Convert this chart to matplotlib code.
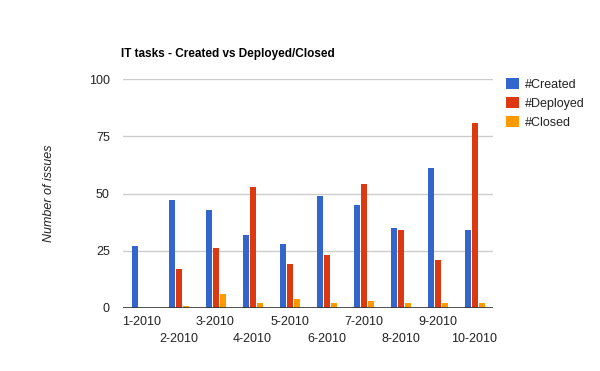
import matplotlib
matplotlib.use("Agg")
import matplotlib.pyplot as plt
import numpy as np

# --------------------------------------------------
# Datos
# --------------------------------------------------
meses = ["1-2010", "2-2010", "3-2010", "4-2010", "5-2010",
         "6-2010", "7-2010", "8-2010", "9-2010", "10-2010"]
creados = [27, 47, 43, 32, 28, 49, 45, 35, 61, 34]
desplegados = [0, 17, 26, 53, 19, 23, 54, 34, 21, 81]
cerrados = [0, 1, 6, 2, 4, 2, 3, 2, 2, 2]

series = [("#Created", creados, "#3366cc"),
          ("#Deployed", desplegados, "#dc3912"),
          ("#Closed", cerrados, "#ff9900")]

plt.rcParams["font.family"] = ["Liberation Sans", "DejaVu Sans"]
tam = 9

fig = plt.figure(figsize=(6, 3.71), dpi=100)
ax = fig.add_axes([123 / 600, 1 - 308 / 371, 370 / 600, 229 / 371])

# --------------------------------------------------
# Barras agrupadas
# --------------------------------------------------
x = np.arange(len(meses))
ancho = 6 / 37
paso = 7 / 37
for i, (nombre, valores, color) in enumerate(series):
    ax.bar(x + (i - 1) * paso, valores, width=ancho, color=color,
           label=nombre, zorder=3)

ax.set_xlim(-0.5, len(meses) - 0.5)
ax.set_ylim(0, 100)
ax.set_yticks([0, 25, 50, 75, 100])
ax.grid(axis="y", color="#cccccc", linewidth=1, zorder=0)
ax.axhline(0, color="#333333", linewidth=1.2, zorder=4)

for lado in ["top", "right", "left", "bottom"]:
    ax.spines[lado].set_visible(False)

ax.tick_params(axis="y", length=0, pad=9.5, colors="#222222", labelsize=tam)
ax.tick_params(axis="x", length=0, colors="#222222", labelsize=tam)
ax.set_xticks(x)
ax.set_xticklabels(meses)

# etiquetas del eje x en dos filas alternadas
for j, tick in enumerate(ax.xaxis.get_major_ticks()):
    tick.set_pad(6 if j % 2 == 0 else 18)

ax.set_ylabel("Number of issues", style="italic", color="#222222", fontsize=tam)
ax.yaxis.set_label_coords(-0.184, 0.5)

fig.text(121 / 600, 1 - 54 / 371, "IT tasks - Created vs Deployed/Closed",
         fontweight="bold", fontsize=8.5, va="center", ha="left", color="#000000")

ax.legend(loc="upper left", bbox_to_anchor=(506 / 600, 1 - 78 / 371),
          bbox_transform=fig.transFigure, frameon=False, borderpad=0,
          borderaxespad=0, handlelength=1.0, handleheight=1.0,
          handletextpad=0.5, labelspacing=0.5, fontsize=tam,
          labelcolor="#222222")

fig.savefig("out.png", dpi=100)
print("Grafico guardado en out.png")
